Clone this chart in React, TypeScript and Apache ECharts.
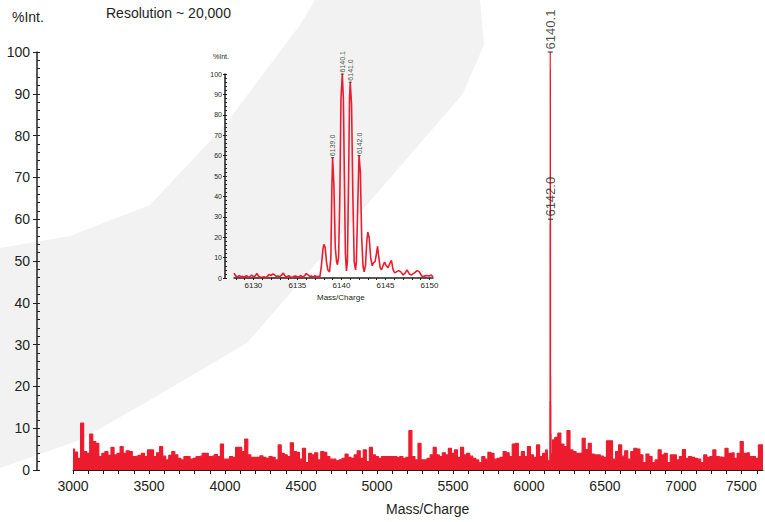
import React, { useEffect, useRef } from "react";
import * as echarts from "echarts";

// Full-range spectrum: intensities (%) on a 20 Da grid starting at 3000 m/z
const NOISE_START = 3000;
const NOISE_STEP = 20;
const noiseIntensity: number[] = [
  5.0, 4.3, 2.8, 11.2, 4.4, 4.0, 8.6, 6.8, 6.4, 3.2,
  4.0, 4.4, 3.5, 5.4, 3.6, 4.0, 5.6, 4.0, 4.6, 4.4,
  3.2, 3.3, 3.5, 4.0, 3.2, 4.8, 4.8, 3.2, 4.1, 5.6,
  3.3, 2.4, 3.5, 4.4, 3.6, 2.8, 2.4, 3.2, 3.2, 2.6,
  2.8, 3.2, 3.3, 4.0, 4.0, 3.2, 3.3, 3.7, 3.2, 6.2,
  2.6, 2.6, 3.2, 3.0, 5.4, 5.4, 4.4, 7.4, 3.6, 3.0,
  3.0, 3.0, 3.4, 3.0, 2.8, 3.2, 3.0, 2.4, 6.0, 4.0,
  3.6, 3.2, 6.5, 4.4, 4.2, 2.6, 5.2, 1.8, 4.0, 3.6,
  4.1, 2.4, 4.4, 4.2, 3.2, 2.6, 2.6, 2.2, 2.4, 2.8,
  3.8, 3.0, 2.8, 3.6, 4.6, 2.8, 4.8, 2.0, 5.4, 3.6,
  3.2, 2.8, 3.2, 3.2, 3.2, 3.2, 3.2, 3.0, 3.2, 2.8,
  3.0, 9.4, 3.2, 2.4, 6.4, 2.4, 2.4, 2.8, 3.6, 5.4,
  3.6, 3.2, 4.1, 3.6, 5.2, 4.0, 4.8, 3.0, 5.4, 3.6,
  4.0, 3.3, 2.8, 2.4, 1.8, 3.2, 2.6, 4.2, 4.0, 2.6,
  2.8, 3.0, 4.4, 4.1, 3.2, 6.2, 6.4, 3.2, 4.4, 3.2,
  5.6, 3.6, 3.0, 6.0, 3.2, 4.0, 4.8, 3.0, 7.2, 7.8,
  8.8, 6.2, 5.6, 9.4, 4.8, 4.4, 4.0, 4.0, 7.6, 4.9,
  6.4, 3.8, 3.6, 3.6, 3.3, 3.0, 7.0, 7.0, 2.6, 4.4,
  6.0, 3.3, 4.6, 2.6, 4.4, 5.2, 5.0, 3.6, 1.8, 3.8,
  3.2, 1.8, 2.4, 4.8, 3.6, 4.0, 1.8, 3.6, 3.6, 2.4,
  3.2, 4.9, 2.8, 3.2, 3.0, 2.8, 2.6, 1.8, 3.6, 3.0,
  3.2, 4.8, 3.2, 3.1, 3.0, 5.2, 4.0, 4.1, 2.8, 4.0,
  6.8, 4.0, 4.1, 3.2, 3.2, 2.8, 6.0, 6.0,
];

// Isotope cluster of the molecular ion, [m/z, %Int.]
const clusterProfile: [number, number][] = [
  [6127.8, 2.4], [6128.0, 1.0], [6128.2, 0.5], [6128.4, 1.2], [6128.6, 0.6],
  [6128.8, 0.8], [6129.0, 0.4], [6129.2, 1.2], [6129.4, 0.5], [6129.6, 0.6],
  [6129.8, 1.5], [6130.0, 0.6], [6130.2, 1.0], [6130.4, 2.2], [6130.6, 0.8],
  [6130.8, 0.5], [6131.0, 0.4], [6131.2, 0.6], [6131.4, 0.3], [6131.6, 0.8],
  [6131.8, 1.8], [6132.0, 1.2], [6132.2, 2.0], [6132.4, 1.6], [6132.6, 0.8],
  [6132.8, 1.0], [6133.0, 0.6], [6133.2, 1.4], [6133.4, 2.4], [6133.6, 1.0],
  [6133.8, 0.4], [6134.0, 1.2], [6134.2, 0.6], [6134.4, 0.3], [6134.6, 0.8],
  [6134.8, 1.0], [6135.0, 0.5], [6135.2, 0.7], [6135.4, 1.2], [6135.6, 0.4],
  [6135.8, 1.0], [6136.0, 2.2], [6136.2, 1.5], [6136.4, 0.8], [6136.6, 1.0],
  [6136.8, 0.4], [6137.0, 1.2], [6137.2, 0.6], [6137.4, 0.8], [6137.55, 0.5],
  [6137.7, 5], [6137.9, 14], [6138.0, 16.5], [6138.15, 15], [6138.3, 8],
  [6138.45, 4], [6138.65, 3], [6138.8, 10], [6138.92, 45], [6139.0, 59],
  [6139.15, 45], [6139.3, 15], [6139.45, 8], [6139.55, 6.5], [6139.68, 10],
  [6139.82, 40], [6139.95, 88], [6140.1, 100], [6140.22, 88], [6140.35, 45],
  [6140.45, 12], [6140.57, 3.5], [6140.68, 8], [6140.82, 50], [6140.92, 88],
  [6141.0, 96], [6141.15, 85], [6141.3, 40], [6141.45, 8], [6141.6, 4],
  [6141.7, 8], [6141.85, 35], [6142.0, 60], [6142.15, 52], [6142.3, 20],
  [6142.45, 6], [6142.58, 3], [6142.73, 6], [6142.88, 18], [6143.0, 22.5],
  [6143.15, 20], [6143.32, 10], [6143.5, 6], [6143.65, 7.5], [6143.82, 8],
  [6143.98, 12], [6144.1, 15.5], [6144.25, 10], [6144.4, 5], [6144.55, 4],
  [6144.72, 6], [6144.9, 7.8], [6145.1, 6], [6145.3, 5], [6145.48, 7],
  [6145.68, 8.6], [6145.87, 4], [6146.05, 2.5], [6146.25, 3], [6146.5, 3.6],
  [6146.75, 3], [6147.0, 1.5], [6147.25, 2.5], [6147.45, 4], [6147.7, 2],
  [6147.95, 1.5], [6148.3, 2.5], [6148.6, 3.6], [6148.85, 3], [6149.1, 1],
  [6149.35, 0.8], [6149.65, 1.2], [6149.95, 1.0], [6150.2, 1.5], [6150.4, 0.5],
];

// Annotated isotope peaks (m/z)
const insetPeakLabels = [6139.0, 6140.1, 6141.0, 6142.0];
const mainPeakLabels = [6140.1, 6142.0];

const mainXTicks = [3000, 3500, 4000, 4500, 5000, 5500, 6000, 6500, 7000, 7500];
const insetXTicks = [6130, 6135, 6140, 6145, 6150];

const RED = "#ec1c2e";
const INK = "#231f20";
const FONT = "'Liberation Sans', Arial, Helvetica, sans-serif";

const peakPoint = (m: number): [number, number] => {
  const p = clusterProfile.find((d) => Math.abs(d[0] - m) < 1e-6);
  return [m, p ? p[1] : 0];
};

const range = (a: number, b: number, s: number) => {
  const out: number[] = [];
  for (let v = a; v <= b + 1e-9; v += s) out.push(Math.round(v * 10) / 10);
  return out;
};

const plain = (v: number) => String(v);

export default function App() {
  const ref = useRef<HTMLDivElement>(null);

  useEffect(() => {
    if (!ref.current) return;
    const chart = echarts.init(ref.current, undefined, { renderer: "svg" });

    const clusterLo = clusterProfile[0][0];
    const clusterHi = clusterProfile[clusterProfile.length - 1][0];
    const spectrum: [number, number][] = noiseIntensity
      .map((v, i) => [NOISE_START + i * NOISE_STEP, v] as [number, number])
      .filter((d) => d[0] < clusterLo || d[0] > clusterHi)
      .concat(clusterProfile)
      .sort((a, b) => a[0] - b[0]);

    const peakLabel = (fontSize: number, distance: number) => ({
      show: true,
      position: "top" as const,
      rotate: 90,
      align: "left" as const,
      verticalAlign: "middle" as const,
      distance,
      fontSize,
      fontFamily: FONT,
      color: INK,
      formatter: (p: any) => p.value[0].toFixed(1),
    });

    chart.setOption({
      animation: false,
      backgroundColor: "#ffffff",
      grid: [
        { left: 73, top: 52, width: 690, height: 418, outerBoundsMode: "none", containLabel: false },
        { left: 234, top: 74, width: 199, height: 204, outerBoundsMode: "none", containLabel: false },
      ],
      xAxis: [
        {
          type: "value",
          gridIndex: 0,
          min: 3000,
          max: 7540,
          splitLine: { show: false },
          axisLine: { show: true, lineStyle: { color: INK, width: 1 } },
          axisTick: {
            show: true,
            length: 4,
            customValues: range(3000, 7500, 100),
            lineStyle: { color: INK, width: 1 },
          },
          axisLabel: {
            customValues: mainXTicks,
            formatter: plain,
            alignMaxLabel: "right",
            fontSize: 14,
            fontFamily: FONT,
            color: INK,
            margin: 9,
          },
        },
        {
          type: "value",
          gridIndex: 1,
          min: 6127.8,
          max: 6150.4,
          splitLine: { show: false },
          axisLine: { show: true, lineStyle: { color: INK, width: 1.5 } },
          axisTick: {
            show: true,
            length: 2,
            customValues: range(6128, 6150, 1),
            lineStyle: { color: INK, width: 1 },
          },
          axisLabel: {
            customValues: insetXTicks,
            formatter: plain,
            fontSize: 8,
            fontFamily: FONT,
            color: INK,
            margin: 3,
          },
        },
      ],
      yAxis: [
        {
          type: "value",
          gridIndex: 0,
          position: "left",
          min: 0,
          max: 100,
          interval: 10,
          offset: 36,
          splitLine: { show: false },
          axisLine: { show: true, lineStyle: { color: INK, width: 1.5 } },
          axisTick: { show: true, length: 4, lineStyle: { color: INK } },
          axisLabel: { fontSize: 14, fontFamily: FONT, color: INK, margin: 7 },
        },
        {
          type: "value",
          gridIndex: 0,
          position: "left",
          min: 0,
          max: 100,
          interval: 2,
          offset: 36,
          splitLine: { show: false },
          axisLine: { show: false },
          axisTick: { show: true, inside: true, length: 3, lineStyle: { color: INK } },
          axisLabel: { show: false },
        },
        {
          type: "value",
          gridIndex: 1,
          position: "left",
          min: 0,
          max: 100,
          interval: 10,
          offset: 9,
          splitLine: { show: false },
          axisLine: { show: true, lineStyle: { color: INK, width: 1.5 } },
          axisTick: { show: true, length: 2, lineStyle: { color: INK } },
          axisLabel: { fontSize: 7, fontFamily: FONT, color: INK, margin: 3 },
        },
        {
          type: "value",
          gridIndex: 1,
          position: "left",
          min: 0,
          max: 100,
          interval: 2,
          offset: 9,
          splitLine: { show: false },
          axisLine: { show: false },
          axisTick: { show: true, inside: true, length: 2, lineStyle: { color: INK } },
          axisLabel: { show: false },
        },
      ],
      graphic: [
        {
          type: "polygon",
          z: -10,
          silent: true,
          shape: {
            points: [
              [0, 248], [70, 236], [150, 205], [225, 125], [300, 25], [315, 0],
              [480, 0], [484, 45], [462, 95], [247, 343], [150, 400], [80, 440], [0, 468],
            ],
          },
          style: { fill: "#f2f2f2" },
        },
        {
          type: "text",
          left: 12,
          top: 10,
          style: { text: "%Int.", fontSize: 14, fontFamily: FONT, fill: INK },
        },
        {
          type: "text",
          left: 106,
          top: 6,
          style: { text: "Resolution ~ 20,000", fontSize: 14, fontFamily: FONT, fill: INK },
        },
        {
          type: "text",
          left: 386,
          top: 502,
          style: { text: "Mass/Charge", fontSize: 14, fontFamily: FONT, fill: INK },
        },
        {
          type: "text",
          left: 213,
          top: 53,
          style: { text: "%Int.", fontSize: 7, fontFamily: FONT, fill: INK },
        },
        {
          type: "text",
          left: 317,
          top: 293,
          style: { text: "Mass/Charge", fontSize: 8, fontFamily: FONT, fill: INK },
        },
      ],
      series: [
        {
          type: "line",
          xAxisIndex: 0,
          yAxisIndex: 0,
          data: spectrum,
          step: "middle",
          symbol: "none",
          lineStyle: { color: RED, width: 1.2 },
          areaStyle: { color: RED, opacity: 1 },
          z: 3,
        },
        {
          type: "scatter",
          xAxisIndex: 0,
          yAxisIndex: 0,
          clip: false,
          data: mainPeakLabels.map(peakPoint),
          symbol: "rect",
          symbolSize: [5, 1.2],
          itemStyle: { color: INK },
          label: peakLabel(13, 2),
          z: 4,
        },
        {
          type: "line",
          xAxisIndex: 1,
          yAxisIndex: 2,
          data: clusterProfile,
          symbol: "none",
          lineStyle: { color: RED, width: 1.6 },
          z: 3,
        },
        {
          type: "scatter",
          xAxisIndex: 1,
          yAxisIndex: 2,
          clip: false,
          data: insetPeakLabels.map(peakPoint),
          symbol: "rect",
          symbolSize: [3, 1],
          itemStyle: { color: INK },
          label: peakLabel(7, 1),
          z: 4,
        },
      ],
    });

    return () => chart.dispose();
  }, []);

  return (
    <div
      ref={ref}
      style={{ position: "fixed", left: 0, top: 0, width: 765, height: 522 }}
    />
  );
}
